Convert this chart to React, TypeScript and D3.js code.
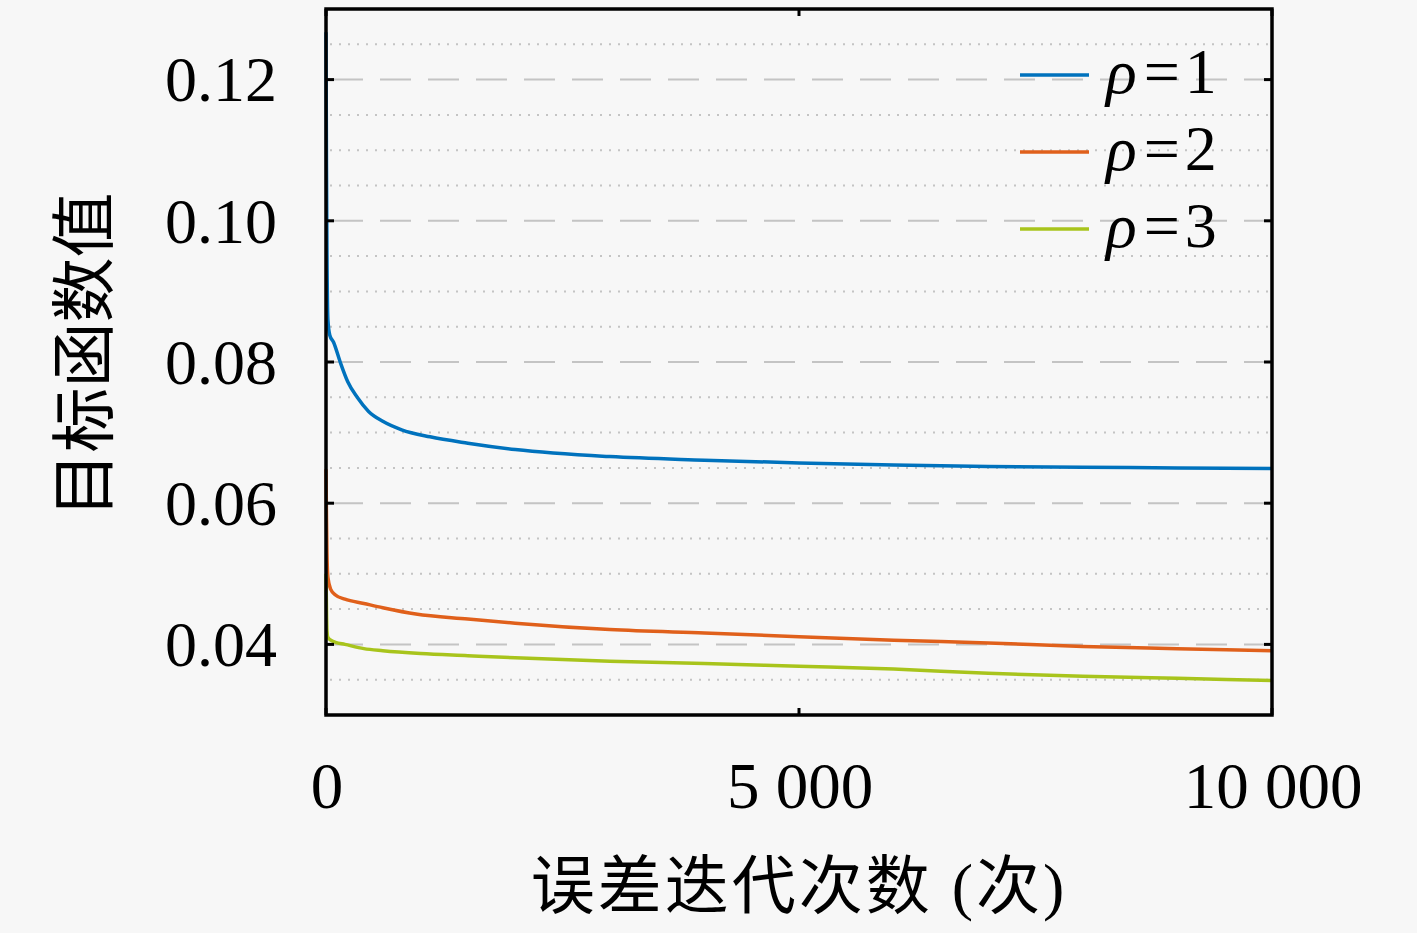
import { useMemo } from "react";
import * as d3 from "d3";

const WIDTH = 1417;
const HEIGHT = 933;
const MARGIN = { top: 9, right: 145, bottom: 218, left: 326 };

const iterBlue = [0, 5, 10, 20, 40, 80, 150, 230, 330, 450, 600, 800, 1100, 1500, 2000, 3000, 4000, 5000, 6000, 7000, 8000, 9000, 10000];
const valBlue = [0.1267, 0.108, 0.096, 0.086, 0.0838, 0.0828, 0.08, 0.0772, 0.075, 0.073, 0.0716, 0.0704, 0.0694, 0.0685, 0.0676, 0.0666, 0.0661, 0.0657, 0.0654, 0.0652, 0.0651, 0.065, 0.0649];

const iterOrange = [0, 5, 10, 20, 50, 100, 200, 400, 600, 950, 1500, 2000, 3000, 4000, 5000, 6000, 7000, 8000, 9000, 10000];
const valOrange = [0.0648, 0.058, 0.053, 0.0495, 0.0478, 0.047, 0.0464, 0.0458, 0.0452, 0.0443, 0.0436, 0.043, 0.0421, 0.0416, 0.0411, 0.0406, 0.0402, 0.0397, 0.0394, 0.0391];

const iterYellow = [0, 5, 10, 20, 50, 100, 200, 400, 600, 1000, 1500, 2000, 3000, 4000, 5000, 6000, 7000, 8000, 9000, 10000];
const valYellow = [0.05, 0.045, 0.042, 0.041, 0.0406, 0.0403, 0.04, 0.0394, 0.0391, 0.0387, 0.0384, 0.0381, 0.0376, 0.0373, 0.0369, 0.0365, 0.0359, 0.0355, 0.0352, 0.0349];

const seriesNames = ["1", "2", "3"];
const seriesColors = ["#0072BD", "#E0601B", "#A8C41C"];

const yMajor = [0.04, 0.06, 0.08, 0.1, 0.12];
const yMinor = [0.035, 0.045, 0.05, 0.055, 0.065, 0.07, 0.075, 0.085, 0.09, 0.095, 0.105, 0.11, 0.115, 0.125];
const xTicks = [0, 5000, 10000];

const SERIF = "'Liberation Serif', 'Noto Sans CJK SC', serif";
const fmt = d3.formatLocale({ decimal: ".", thousands: " ", grouping: [3], currency: ["", ""] }).format(",d");

export default function App() {
  const boundsWidth = WIDTH - MARGIN.left - MARGIN.right;
  const boundsHeight = HEIGHT - MARGIN.top - MARGIN.bottom;

  const xScale = useMemo(() => d3.scaleLinear().domain([0, 10000]).range([0, boundsWidth]), [boundsWidth]);
  const yScale = useMemo(() => d3.scaleLinear().domain([0.03, 0.13]).range([boundsHeight, 0]), [boundsHeight]);

  const series = [
    iterBlue.map((t, i) => [t, valBlue[i]] as [number, number]),
    iterOrange.map((t, i) => [t, valOrange[i]] as [number, number]),
    iterYellow.map((t, i) => [t, valYellow[i]] as [number, number]),
  ];

  const line = d3
    .line<[number, number]>()
    .x((d) => xScale(d[0]))
    .y((d) => yScale(d[1]))
    .curve(d3.curveMonotoneX);

  return (
    <div style={{ position: "absolute", left: 0, top: 0, width: WIDTH, height: HEIGHT, background: "#f7f7f7" }}>
      <svg width={WIDTH} height={HEIGHT} style={{ display: "block" }}>
        <g transform={`translate(${MARGIN.left},${MARGIN.top})`}>
          {/* minor dotted grid */}
          {yMinor.map((v) => (
            <line key={"m" + v} x1={4} x2={boundsWidth - 4} y1={yScale(v)} y2={yScale(v)}
              stroke="#c4c4c4" strokeWidth={2} strokeDasharray="2,7" />
          ))}
          {/* major dashed grid */}
          {yMajor.map((v) => (
            <line key={"M" + v} x1={6} x2={boundsWidth - 6} y1={yScale(v)} y2={yScale(v)}
              stroke="#c4c4c4" strokeWidth={2} strokeDasharray="31,17" />
          ))}

          {series.map((s, i) => (
            <path key={i} d={line(s) ?? ""} fill="none" stroke={seriesColors[i]} strokeWidth={3.5}
              strokeLinejoin="round" />
          ))}

          {/* frame */}
          <rect x={0} y={0} width={boundsWidth} height={boundsHeight} fill="none" stroke="#000" strokeWidth={3.5} />

          {/* ticks */}
          {yMajor.map((v) => (
            <g key={"t" + v}>
              <line x1={0} x2={8} y1={yScale(v)} y2={yScale(v)} stroke="#000" strokeWidth={3} />
              <line x1={boundsWidth - 8} x2={boundsWidth} y1={yScale(v)} y2={yScale(v)} stroke="#000" strokeWidth={3} />
              <text x={-49} y={yScale(v)} dy="0.34em" textAnchor="end" fontFamily={SERIF} fontSize={64} fill="#000">
                {v.toFixed(2)}
              </text>
            </g>
          ))}
          {xTicks.map((t) => (
            <g key={"x" + t}>
              <line x1={xScale(t)} x2={xScale(t)} y1={boundsHeight} y2={boundsHeight - 7} stroke="#000" strokeWidth={3} />
              <line x1={xScale(t)} x2={xScale(t)} y1={0} y2={7} stroke="#000" strokeWidth={3} />
              <text x={xScale(t) + 1} y={boundsHeight + 93} textAnchor="middle" fontFamily={SERIF} fontSize={65} fill="#000">
                {fmt(t)}
              </text>
            </g>
          ))}

          {/* legend */}
          {seriesNames.map((name, i) => (
            <g key={"l" + name} transform={`translate(${1020 - MARGIN.left},${75 + i * 77 - MARGIN.top})`}>
              <line x1={0} x2={69} y1={0} y2={0} stroke={seriesColors[i]} strokeWidth={3.5} />
              <text x={86} y={18} fontFamily={SERIF} fontSize={64} fill="#000">
                <tspan fontStyle="italic">ρ</tspan>
                <tspan dx={7}>=</tspan>
                <tspan dx={5}>{name}</tspan>
              </text>
            </g>
          ))}
        </g>

        {/* axis titles */}
        <text x={799} y={908} textAnchor="middle" fontFamily={SERIF} fontSize={64} letterSpacing={3} fill="#000">
          误差迭代次数 (次)
        </text>
        <text transform="translate(107,355) rotate(-90)" textAnchor="middle" fontFamily={SERIF} fontSize={65} fill="#000">
          目标函数值
        </text>
      </svg>
    </div>
  );
}
